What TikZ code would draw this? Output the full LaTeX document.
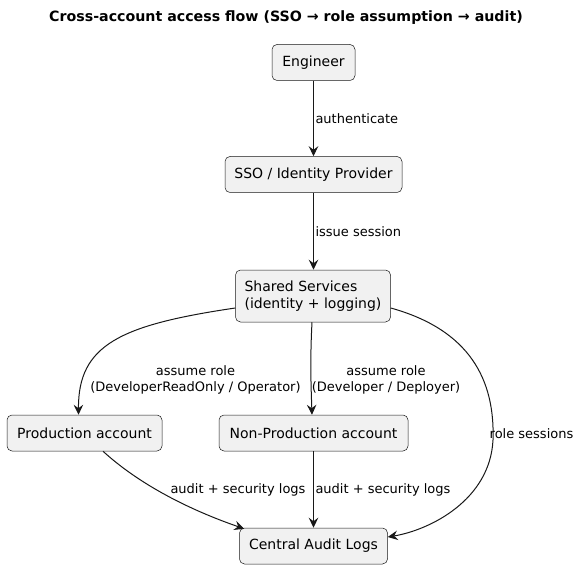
\documentclass[tikz,border=0pt]{standalone}
\usepackage{fontspec}
\setmainfont{DejaVu Sans}
\usetikzlibrary{arrows.meta}
\definecolor{boxfill}{HTML}{F1F1F1}
\definecolor{ink}{HTML}{181818}
\begin{document}
\begin{tikzpicture}[x=1pt,y=-1pt,
 box/.style={draw=ink, fill=boxfill, rounded corners=5pt, line width=0.5pt, minimum height=36pt, inner sep=0pt, font=\fontsize{14}{17}\selectfont},
 conn/.style={draw=ink, line width=1pt, -{Stealth[length=10pt,width=9.5pt,inset=3.5pt]}},
 lbl/.style={font=\fontsize{13}{16}\selectfont, inner sep=1.5pt, text=black},
]
\useasboundingbox (0,0) rectangle (580,569);
\node[font=\bfseries\fontsize{14.2}{17}\selectfont] (title) at (286,18) {Cross-account access flow (SSO → role assumption → audit)};

\node[box, minimum width=83pt] (eng) at (313.5,62.5) {Engineer};
\node[box, minimum width=177pt] (sso) at (313.5,174.5) {SSO / Identity Provider};
\node[box, minimum width=155pt, minimum height=52pt, align=left] (shared) at (313,296) {Shared Services\\(identity + logging)};
\node[box, minimum width=155pt] (prod) at (84.5,433) {Production account};
\node[box, minimum width=189pt] (nonprod) at (313.5,433) {Non-Production account};
\node[box, minimum width=148pt] (audit) at (313.5,546) {Central Audit Logs};

\draw[conn] (eng) -- (sso) node[lbl, midway, anchor=west] (l1) {authenticate};
\draw[conn] (sso.south) -- (sso.south |- shared.north) node[lbl, midway, anchor=west] (l2) {issue session};

\draw[conn] ([yshift=-12pt]shared.west) .. controls (120,325) and (78,345) .. ([xshift=-6pt]prod.north);
\node[lbl, align=center] (l3) at (195.5,380) {assume role\\(DeveloperReadOnly / Operator)};

\draw[conn] ([xshift=-1pt]shared.south) .. controls (310,360) and (311,385) .. ([xshift=-1.5pt]nonprod.north);
\node[lbl, align=center] (l4) at (386,380) {assume role\\(Developer / Deployer)};

\draw[conn] ([yshift=-12pt]shared.east) .. controls (470,330) and (495,380) .. (493,440) .. controls (490,500) and (430,530) .. ([yshift=9pt]audit.east);
\node[lbl, anchor=west] (l5) at (488,434) {role sessions};

\draw[conn] ([xshift=18.5pt]prod.south) .. controls (140,485) and (190,510) .. ([xshift=5pt,yshift=-1pt]audit.north west);
\node[lbl] (l6) at (238,490) {audit + security logs};

\draw[conn] (nonprod) -- (audit) node[lbl, midway, anchor=west] (l7) {audit + security logs};
\end{tikzpicture}
\end{document}
